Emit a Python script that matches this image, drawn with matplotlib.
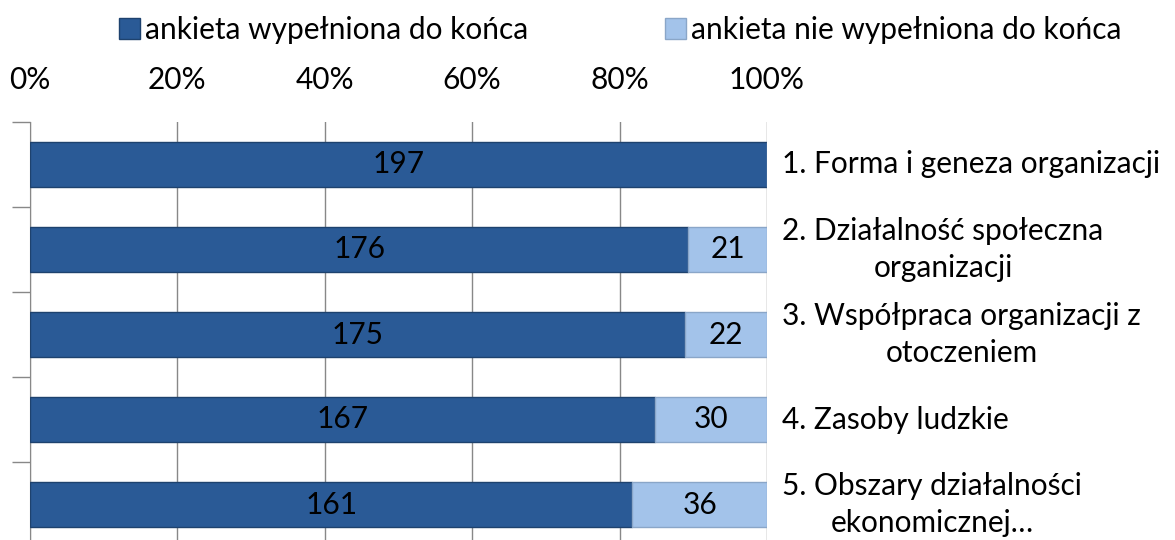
import matplotlib.pyplot as plt
import numpy as np

plt.rcParams['font.family'] = ['Lato', 'DejaVu Sans']

categories = ['1. Forma i geneza organizacji',
              '2. Działalność społeczna\norganizacji',
              '3. Współpraca organizacji z\notoczeniem',
              '4. Zasoby ludzkie',
              '5. Obszary działalności\nekonomicznej…']
completed = [197, 176, 175, 167, 161]
not_completed = [0, 21, 22, 30, 36]
series_names = ['ankieta wypełniona do końca', 'ankieta nie wypełniona do końca']
xtick_labels = ['0%', '20%', '40%', '60%', '80%', '100%']

comp = np.array(completed, dtype=float)
notc = np.array(not_completed, dtype=float)
total = comp + notc
p1 = comp / total * 100
p2 = notc / total * 100

fig = plt.figure(figsize=(11.75, 5.4), dpi=100)
ax = fig.add_axes([30/1175, -7/540, 737/1175, 425/540])

y = np.arange(len(categories))
dark = '#2A5A96'
light = '#A3C3EA'
b1 = ax.barh(y, p1, height=0.52, color=dark, edgecolor='#1E426E', linewidth=1.0,
             label=series_names[0], zorder=3)
b2 = ax.barh(y, p2, left=p1, height=0.52, color=light, edgecolor='#8AA6C8', linewidth=1.0,
             label=series_names[1], zorder=3)

fs = 21.5
for i in range(len(categories)):
    ax.text(p1[i] / 2, y[i], str(completed[i]), ha='center', va='center',
            fontsize=fs, color='black', zorder=4)
    if not_completed[i] > 0:
        ax.text(p1[i] + p2[i] / 2, y[i], str(not_completed[i]), ha='center', va='center',
                fontsize=fs, color='black', zorder=4)
    ax.text(1.021, y[i], categories[i], transform=ax.get_yaxis_transform(),
            ha='left', va='center', multialignment='center', fontsize=fs,
            linespacing=1.35)

ax.set_xlim(0, 100)
ax.set_ylim(len(categories) - 0.5, -0.5)
ax.set_xticks(np.arange(0, 101, 20))
ax.set_xticklabels(xtick_labels, fontsize=fs)
ax.xaxis.tick_top()
ax.tick_params(axis='x', length=0, pad=20)
ax.set_yticks(np.arange(-0.5, len(categories), 1))
ax.set_yticklabels([])
ax.tick_params(axis='y', length=13, color='#888888', width=1)
ax.grid(axis='x', color='#888888', linewidth=1, zorder=0)
for s in ['top', 'right', 'bottom']:
    ax.spines[s].set_visible(False)
ax.spines['left'].set_color('#888888')

fig.legend(handles=[b1, b2], loc='upper center', bbox_to_anchor=(0.528, 1.02), ncol=2,
           frameon=False, fontsize=fs, handlelength=0.7, handleheight=0.7,
           handletextpad=0.15, columnspacing=4.6)

fig.savefig('out.png', dpi=100)
